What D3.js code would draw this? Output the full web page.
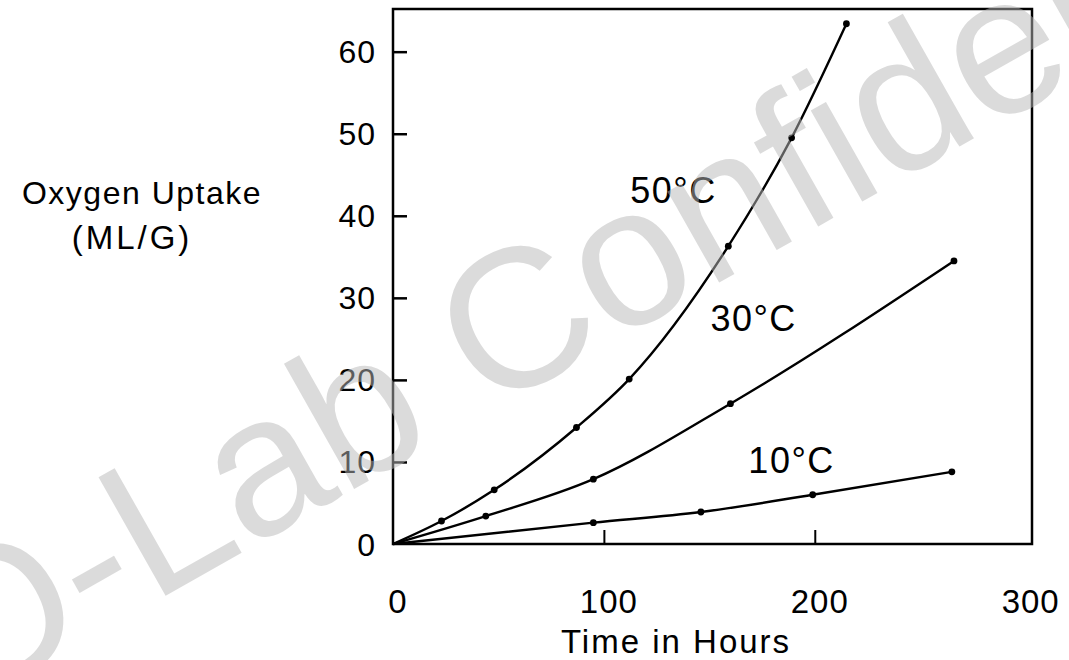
<!DOCTYPE html>
<html lang="en">
<head>
    <meta charset="UTF-8">
    <title>Oxygen Uptake vs Time</title>
    <script src="https://d3js.org/d3.v7.min.js"></script>
    <style>
        body { margin: 0; background: #fff; }
        svg text { font-family: "Liberation Sans", Arial, Helvetica, sans-serif; fill: #000; }
    </style>
</head>
<body>
    <div id="chart"></div>
    <script>
        // values
        const seriesNames = ["50°C", "30°C", "10°C"];
        const hours50 = [0, 23, 48, 87, 112, 159, 189, 215];
        const uptake50 = [0, 2.8, 6.6, 14.2, 20.1, 36.3, 49.5, 63.4];
        const hours30 = [0, 44, 95, 160, 266];
        const uptake30 = [0, 3.4, 7.9, 17.1, 34.5];
        const hours10 = [0, 95, 146, 199, 265];
        const uptake10 = [0, 2.6, 3.9, 6.0, 8.8];
        // where each curve label sits, in data units (hours, uptake)
        const labelHours = [133, 171, 189];
        const labelUptake = [41.6, 25.9, 8.7];
        const xTicks = [0, 100, 200, 300];
        const yTicks = [0, 10, 20, 30, 40, 50, 60];

        const width = 1069, height = 660;
        const margin = { top: 9, right: 37, bottom: 116, left: 393 };

        const svg = d3.select("#chart").append("svg")
            .attr("width", width)
            .attr("height", height);

        const x = d3.scaleLinear().domain([0, 303]).range([margin.left, width - margin.right]);
        const y = d3.scaleLinear().domain([0, 65.2]).range([height - margin.bottom, margin.top]);

        // frame
        svg.append("rect")
            .attr("x", x(0)).attr("y", y(65.2))
            .attr("width", x(303) - x(0)).attr("height", y(0) - y(65.2))
            .attr("fill", "none").attr("stroke", "#000").attr("stroke-width", 2.5);

        // inward ticks
        const yAxis = svg.append("g")
            .attr("transform", `translate(${x(0)},0)`)
            .call(d3.axisRight(y).tickValues(yTicks.filter(d => d > 0)).tickSize(14).tickFormat(""));
        yAxis.select(".domain").remove();
        yAxis.selectAll("line").attr("stroke-width", 2.5);

        const xAxis = svg.append("g")
            .attr("transform", `translate(0,${y(0)})`)
            .call(d3.axisTop(x).tickValues([100, 200]).tickSize(14).tickFormat(""));
        xAxis.select(".domain").remove();
        xAxis.selectAll("line").attr("stroke-width", 2);

        // tick labels
        svg.append("g").selectAll("text")
            .data(yTicks)
            .join("text")
            .attr("x", x(0) - 17)
            .attr("y", d => y(d))
            .attr("dy", "0.36em")
            .attr("text-anchor", "end")
            .attr("font-size", 32)
            .attr("letter-spacing", 1)
            .text(d => d);

        svg.append("g").selectAll("text")
            .data(xTicks)
            .join("text")
            .attr("x", d => x(d) + 5)
            .attr("y", 613)
            .attr("text-anchor", "middle")
            .attr("font-size", 33)
            .attr("letter-spacing", 1)
            .text(d => d);

        // axis titles
        svg.append("text")
            .attr("x", 676).attr("y", 653)
            .attr("text-anchor", "middle")
            .attr("font-size", 33)
            .attr("letter-spacing", 2)
            .text("Time in Hours");

        svg.append("text")
            .attr("x", 142).attr("y", 204)
            .attr("text-anchor", "middle")
            .attr("font-size", 32)
            .attr("letter-spacing", 1.5)
            .text("Oxygen Uptake");

        svg.append("text")
            .attr("x", 132).attr("y", 249)
            .attr("text-anchor", "middle")
            .attr("font-size", 33)
            .attr("letter-spacing", 3)
            .text("(ML/G)");

        // curves
        const series = [
            { name: seriesNames[0], pts: hours50.map((h, i) => [h, uptake50[i]]) },
            { name: seriesNames[1], pts: hours30.map((h, i) => [h, uptake30[i]]) },
            { name: seriesNames[2], pts: hours10.map((h, i) => [h, uptake10[i]]) }
        ];

        const line = d3.line()
            .x(d => x(d[0]))
            .y(d => y(d[1]))
            .curve(d3.curveMonotoneX);

        series.forEach((s, i) => {
            svg.append("path")
                .datum(s.pts)
                .attr("fill", "none")
                .attr("stroke", "#000")
                .attr("stroke-width", 2.4)
                .attr("d", line);

            svg.append("g").selectAll("circle")
                .data(s.pts.slice(1))
                .join("circle")
                .attr("cx", d => x(d[0]))
                .attr("cy", d => y(d[1]))
                .attr("r", 3.4)
                .attr("fill", "#000");

            svg.append("text")
                .attr("x", x(labelHours[i]))
                .attr("y", y(labelUptake[i]))
                .attr("text-anchor", "middle")
                .attr("font-size", 36)
                .attr("letter-spacing", 1.5)
                .text(s.name);
        });

        // watermark
        svg.append("text")
            .attr("transform", "translate(-40,712) rotate(-29.5)")
            .attr("font-size", 198)
            .style("fill", "#b8b8b8")
            .attr("opacity", 0.5)
            .text("Q-Lab Confidential");
    </script>
</body>
</html>
